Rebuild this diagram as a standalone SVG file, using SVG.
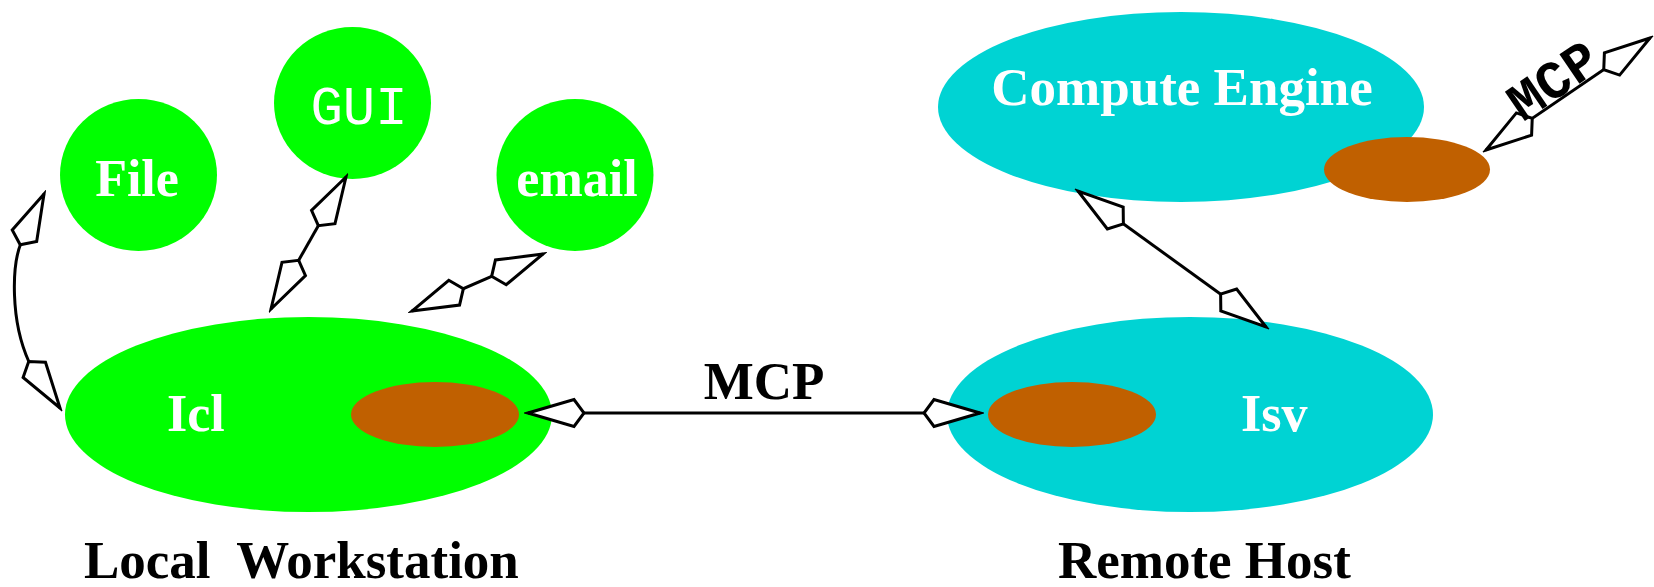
<svg xmlns="http://www.w3.org/2000/svg" width="1654" height="587" viewBox="0 0 1654 587">
<style>
.bg{fill:#ffffff}
.green{fill:#00ff00}
.cyan{fill:#00d3d3}
.brown{fill:#c06000}
.lbl{font-family:"Liberation Serif","Times New Roman",serif;font-weight:bold;font-size:52px;fill:#ffffff}
.lblce{font-family:"Liberation Serif","Times New Roman",serif;font-weight:bold;font-size:53px;fill:#ffffff}
.mono{font-family:"Liberation Mono","Courier New",monospace;font-weight:normal;font-size:54px}
.monob{font-family:"Liberation Mono","Courier New",monospace;font-weight:bold;font-size:54px;fill:#000000}
.cap{font-family:"Liberation Serif","Times New Roman",serif;font-weight:bold;font-size:53px;fill:#000000}
.conn{fill:none;stroke:#000000;stroke-width:3}
</style>
<defs>
<marker id="kite" viewBox="-62 -18 66 36" refX="0" refY="0" markerWidth="66" markerHeight="36" markerUnits="userSpaceOnUse" orient="auto-start-reverse">
<path d="M0,0 L-46,-13.5 L-56,0 L-46,13.5 Z" fill="#ffffff" stroke="#000000" stroke-width="3" stroke-linejoin="miter"/>
</marker>
</defs>
<rect class="bg" x="0" y="0" width="1654" height="587"/>

<g id="node-file">
<ellipse class="green" cx="138.5" cy="175" rx="78.5" ry="76"/>
<text class="lbl" x="137" y="196" text-anchor="middle">File</text>
</g>
<g id="node-gui">
<ellipse class="green" cx="352.5" cy="103" rx="78.5" ry="76"/>
<text class="mono" x="359" y="124" text-anchor="middle" fill="#ffffff">GUI</text>
</g>
<g id="node-email">
<ellipse class="green" cx="575" cy="175" rx="78.5" ry="76"/>
<text class="lbl" x="577" y="196" text-anchor="middle">email</text>
</g>
<g id="node-icl">
<ellipse class="green" cx="308.5" cy="414.5" rx="243.5" ry="97.5"/>
<ellipse class="brown" cx="435" cy="414.5" rx="84" ry="32.5"/>
<text class="lbl" x="167" y="431">Icl</text>
</g>
<g id="node-isv">
<ellipse class="cyan" cx="1190" cy="414.5" rx="243" ry="97.5"/>
<ellipse class="brown" cx="1072" cy="414.5" rx="84" ry="32.5"/>
<text class="lbl" x="1241" y="431">Isv</text>
</g>
<g id="node-compute-engine">
<ellipse class="cyan" cx="1181" cy="107" rx="243" ry="95"/>
<ellipse class="brown" cx="1407" cy="169.5" rx="83" ry="32.5"/>
<text class="lblce" x="1182" y="105" text-anchor="middle">Compute Engine</text>
</g>

<g id="connectors">
<path class="conn" d="M528,413 L980,413" marker-start="url(#kite)" marker-end="url(#kite)"/>
<path class="conn" d="M1078,191 L1266,327" marker-start="url(#kite)" marker-end="url(#kite)"/>
<path class="conn" d="M1486,150 L1650,38" marker-start="url(#kite)" marker-end="url(#kite)"/>
<path class="conn" d="M346,177 L271,309" marker-start="url(#kite)" marker-end="url(#kite)"/>
<path class="conn" d="M543,254 L412,311" marker-start="url(#kite)" marker-end="url(#kite)"/>
<path class="conn" d="M44,194 L21,243 C12,265 10,320 29,362 L60,408" marker-start="url(#kite)" marker-end="url(#kite)"/>
<text class="cap" x="764" y="399" text-anchor="middle">MCP</text>
<text class="monob" x="1563" y="95" text-anchor="middle" transform="rotate(-34.3 1563 95)">MCP</text>
</g>

<g id="captions">
<text class="cap" x="84" y="578" xml:space="preserve">Local  Workstation</text>
<text class="cap" x="1058" y="578">Remote Host</text>
</g>
</svg>
